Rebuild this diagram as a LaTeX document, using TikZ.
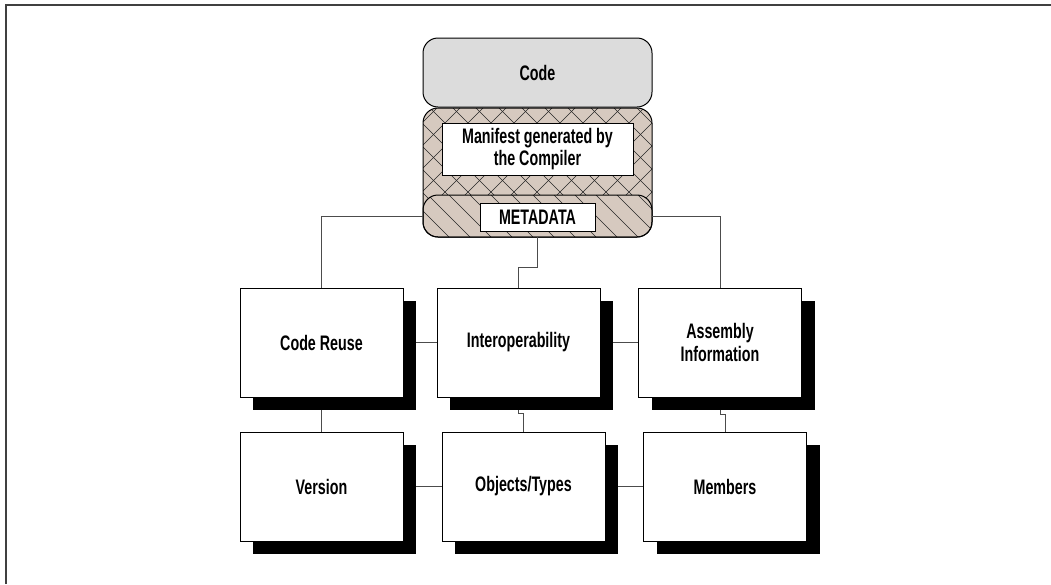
\documentclass[tikz,border=0pt]{standalone}
\usepackage{fontspec}
\setmainfont{Liberation Sans}[FakeStretch=0.68,UprightFont=* Bold]
\definecolor{manifestfill}{RGB}{214,201,191}
\definecolor{codefill}{RGB}{220,220,220}
\begin{document}
\begin{tikzpicture}[x=1pt,y=-1pt,
  every node/.style={font=\fontsize{21}{22.5}\selectfont, align=center, inner sep=0pt},
  topbox/.style={draw=black, line width=1pt, rounded corners=15pt, fill=codefill,
    minimum width=229pt, minimum height=69pt},
  label/.style={draw=black, line width=0.9pt, fill=white},
  infobox/.style={draw=black, line width=0.9pt, fill=white,
    minimum width=163pt, minimum height=109pt},
  shadowbox/.style={fill=black, minimum width=163pt, minimum height=109pt},
  link/.style={draw=black!70, line width=0.9pt},
  hatch/.style={draw=black!85, line width=0.55pt}
]
\useasboundingbox (0,0) rectangle (1051,584);

% page frame (top and left edges)
\draw[black!75, line width=1.6pt] (6,584) -- (6,5) -- (1051,5);

% code block
\node[topbox] (code) at (537.5,72.5) {Code};

% manifest block with cross hatching
\fill[manifestfill, rounded corners=15pt] (423,108) rectangle (652,237);
\begin{scope}
  \clip[rounded corners=15pt] (423,108) rectangle (652,237);
  \foreach \c in {-230,-207,...,560} {
    \draw[hatch] (\c+108,108) -- (\c+237,237);
    \draw[hatch] (\c+237+200,108) -- (\c+108+200,237);
  }
\end{scope}

% metadata band with single hatching
\node[minimum width=229pt, minimum height=42pt] (meta) at (537.5,216) {};
\fill[manifestfill, rounded corners=15pt] (423,195) rectangle (652,237);
\begin{scope}
  \clip[rounded corners=15pt] (423,195) rectangle (652,237);
  \foreach \c in {160,181,...,680} {
    \draw[hatch] (\c+195-200,195) -- (\c+237-200,237);
  }
\end{scope}
\draw[black, line width=1pt, rounded corners=15pt] (423,195) rectangle (652,237);
\draw[black, line width=1pt, rounded corners=15pt] (423,108) rectangle (652,237);
\node[minimum width=229pt, minimum height=129pt] (manifest) at (537.5,172.5) {};

\node[label, minimum width=191pt, minimum height=52pt] (mantext) at (537.5,149)
  {Manifest generated by\\the Compiler};
\node[label, minimum width=115pt, minimum height=28pt] (metatext) at (537.5,217) {METADATA};

% shadows
\foreach \n/\x/\y in {crs/334.5/355.5, ios/531.5/355.5, ais/733/355.5,
                      ves/334.5/499.5, obs/536.5/499.5, mes/738/499.5}
  \node[shadowbox] (\n) at (\x,\y) {};

% boxes
\node[infobox] (cr) at (321.5,342.5) {Code Reuse};
\node[infobox] (io) at (518.5,342.5) {Interoperability};
\node[infobox] (ai) at (720,342.5) {Assembly\\Information};
\node[infobox] (ve) at (321.5,486.5) {Version};
\node[infobox] (ob) at (523.5,486.5) {Objects/Types};
\node[infobox] (me) at (725,486.5) {Members};

% connectors from the metadata band
\draw[link] (meta.west) -| (cr.north);
\draw[link] (meta.east) -| (ai.north);
\draw[link] (meta.south) -- ++(0,30) -| (io.north);

% horizontal links
\draw[link] (crs.east |- cr.east) -- (io.west);
\draw[link] (ios.east |- io.east) -- (ai.west);
\draw[link] (ves.east |- ve.east) -- (ob.west);
\draw[link] (obs.east |- ob.east) -- (me.west);

% vertical links between rows
\draw[link] (cr.south |- crs.south) -- (ve.north);
\draw[link] (io.south |- ios.south) -- ++(0,3) -| (ob.north);
\draw[link] (ai.south |- ais.south) -- ++(0,4) -| (me.north);
\end{tikzpicture}
\end{document}
